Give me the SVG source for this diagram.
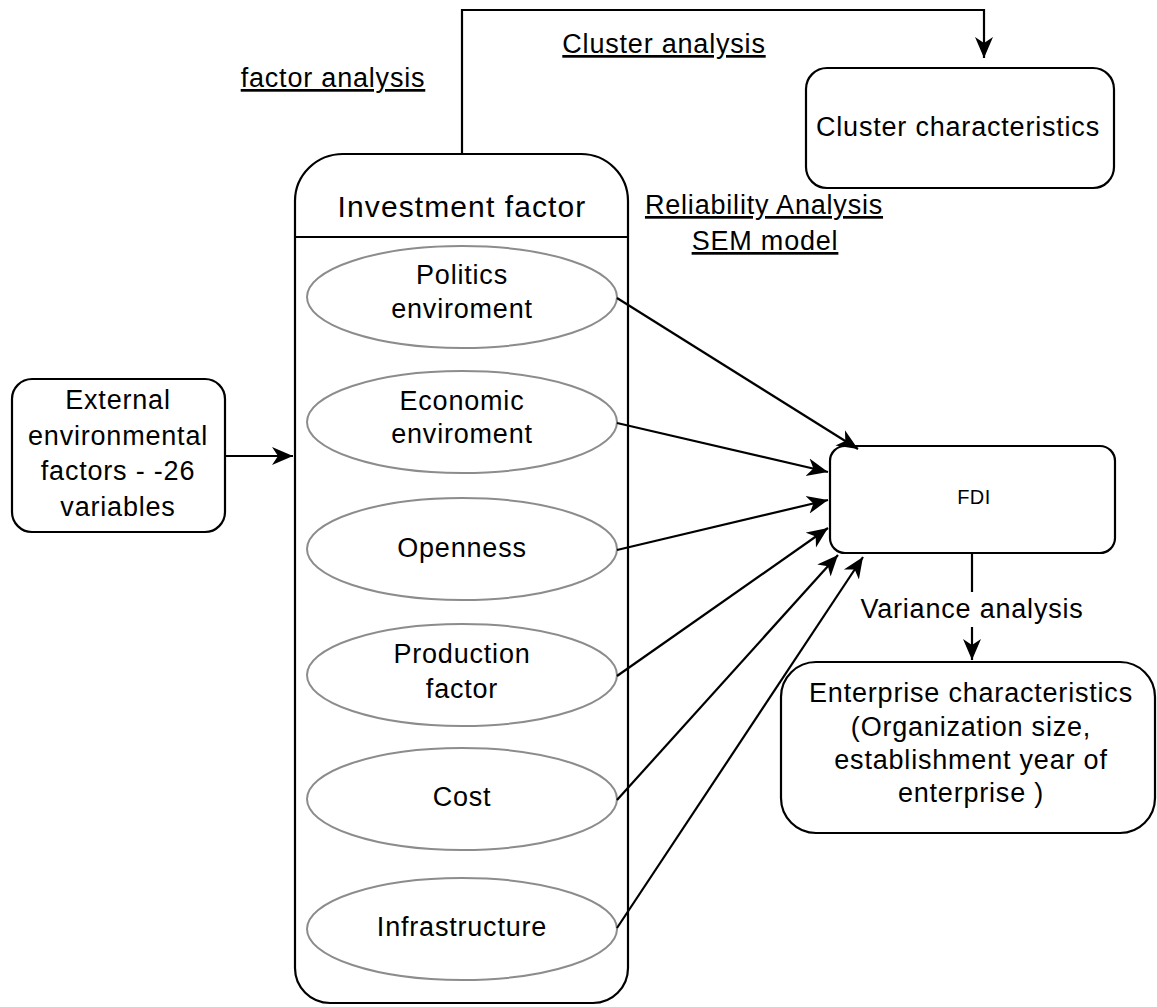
<svg xmlns="http://www.w3.org/2000/svg" width="1157" height="1007" viewBox="0 0 1157 1007">
<style>
text{font-family:"Liberation Sans",Arial,sans-serif;fill:#000;}
.t{font-size:27px;letter-spacing:0.8px;text-anchor:middle;}
.u{text-decoration:underline;}
.box{fill:#fff;stroke:#000;stroke-width:2.2;}
.ell{fill:#fff;stroke:#8c8c8c;stroke-width:2;}
.ln{fill:none;stroke:#000;stroke-width:2.2;}
</style>
<defs>
<marker id="ar" markerUnits="userSpaceOnUse" viewBox="0 0 22 20" markerWidth="22" markerHeight="20" refX="21" refY="10" orient="auto">
<path d="M0,1 L21,10 L0,19 L6,10 Z" fill="#000"/>
</marker>
</defs>
<rect width="1157" height="1007" fill="#fff"/>

<g id="investment-factor">
<path class="box" d="M343,154 H581 A47,47 0 0 1 628,201 V968 A35,35 0 0 1 593,1003 H330 A35,35 0 0 1 295,968 V201 A48,47 0 0 1 343,154 Z"/>
<line class="ln" x1="295" y1="237" x2="628" y2="237"/>
<text class="t" x="462" y="217" style="font-size:30px;letter-spacing:1.1px">Investment factor</text>
</g>
<g id="politics">
<ellipse class="ell" cx="462" cy="297" rx="155" ry="51"/>
<text class="t" x="462" y="284">Politics</text>
<text class="t" x="462" y="318">enviroment</text>
</g>
<g id="economic">
<ellipse class="ell" cx="462" cy="422" rx="155" ry="51"/>
<text class="t" x="462" y="410">Economic</text>
<text class="t" x="462" y="443">enviroment</text>
</g>
<g id="openness">
<ellipse class="ell" cx="462" cy="549" rx="155" ry="51"/>
<text class="t" x="462" y="557">Openness</text>
</g>
<g id="production">
<ellipse class="ell" cx="462" cy="675" rx="155" ry="51"/>
<text class="t" x="462" y="663">Production</text>
<text class="t" x="462" y="698">factor</text>
</g>
<g id="cost">
<ellipse class="ell" cx="462" cy="799" rx="155" ry="51"/>
<text class="t" x="462" y="806">Cost</text>
</g>
<g id="infrastructure">
<ellipse class="ell" cx="462" cy="929" rx="155" ry="51"/>
<text class="t" x="462" y="936">Infrastructure</text>
</g>

<g id="external">
<rect class="box" x="12" y="379" width="213" height="153" rx="20"/>
<text class="t" x="118" y="409">External</text>
<text class="t" x="118" y="445">environmental</text>
<text class="t" x="118" y="480">factors - -26</text>
<text class="t" x="118" y="516">variables</text>
</g>

<g id="cluster">
<rect class="box" x="806" y="68" width="308" height="120" rx="21"/>
<text class="t" x="958" y="136">Cluster characteristics</text>
</g>

<g id="fdi">
<rect class="box" x="830" y="446" width="285" height="107" rx="15"/>
<text class="t" x="974" y="504" style="font-size:20px;letter-spacing:0.5px">FDI</text>
</g>

<g id="enterprise">
<rect class="box" x="781" y="662" width="374" height="171" rx="35"/>
<text class="t" x="971" y="702">Enterprise characteristics</text>
<text class="t" x="971" y="736">(Organization size,</text>
<text class="t" x="971" y="769">establishment year of</text>
<text class="t" x="971" y="802">enterprise )</text>
</g>

<g id="labels">
<text class="t u" x="333" y="87">factor analysis</text>
<text class="t u" x="664" y="53">Cluster analysis</text>
<text class="t u" x="764" y="214">Reliability Analysis</text>
<text class="t u" x="765" y="250">SEM model</text>
<text class="t" x="972" y="618">Variance analysis</text>
</g>

<g id="connectors">
<path class="ln" d="M462,154 V10 H984 V58" marker-end="url(#ar)"/>
<path class="ln" d="M225,456 H293" marker-end="url(#ar)"/>
<path class="ln" d="M617,298 L858,449" marker-end="url(#ar)"/>
<path class="ln" d="M617,423 L828,472" marker-end="url(#ar)"/>
<path class="ln" d="M617,550 L828,500" marker-end="url(#ar)"/>
<path class="ln" d="M617,676 L828,528" marker-end="url(#ar)"/>
<path class="ln" d="M617,800 L838,555" marker-end="url(#ar)"/>
<path class="ln" d="M617,928 L863,557" marker-end="url(#ar)"/>
<path class="ln" d="M972,553 V592"/>
<path class="ln" d="M972,627 V660" marker-end="url(#ar)"/>
</g>
</svg>
